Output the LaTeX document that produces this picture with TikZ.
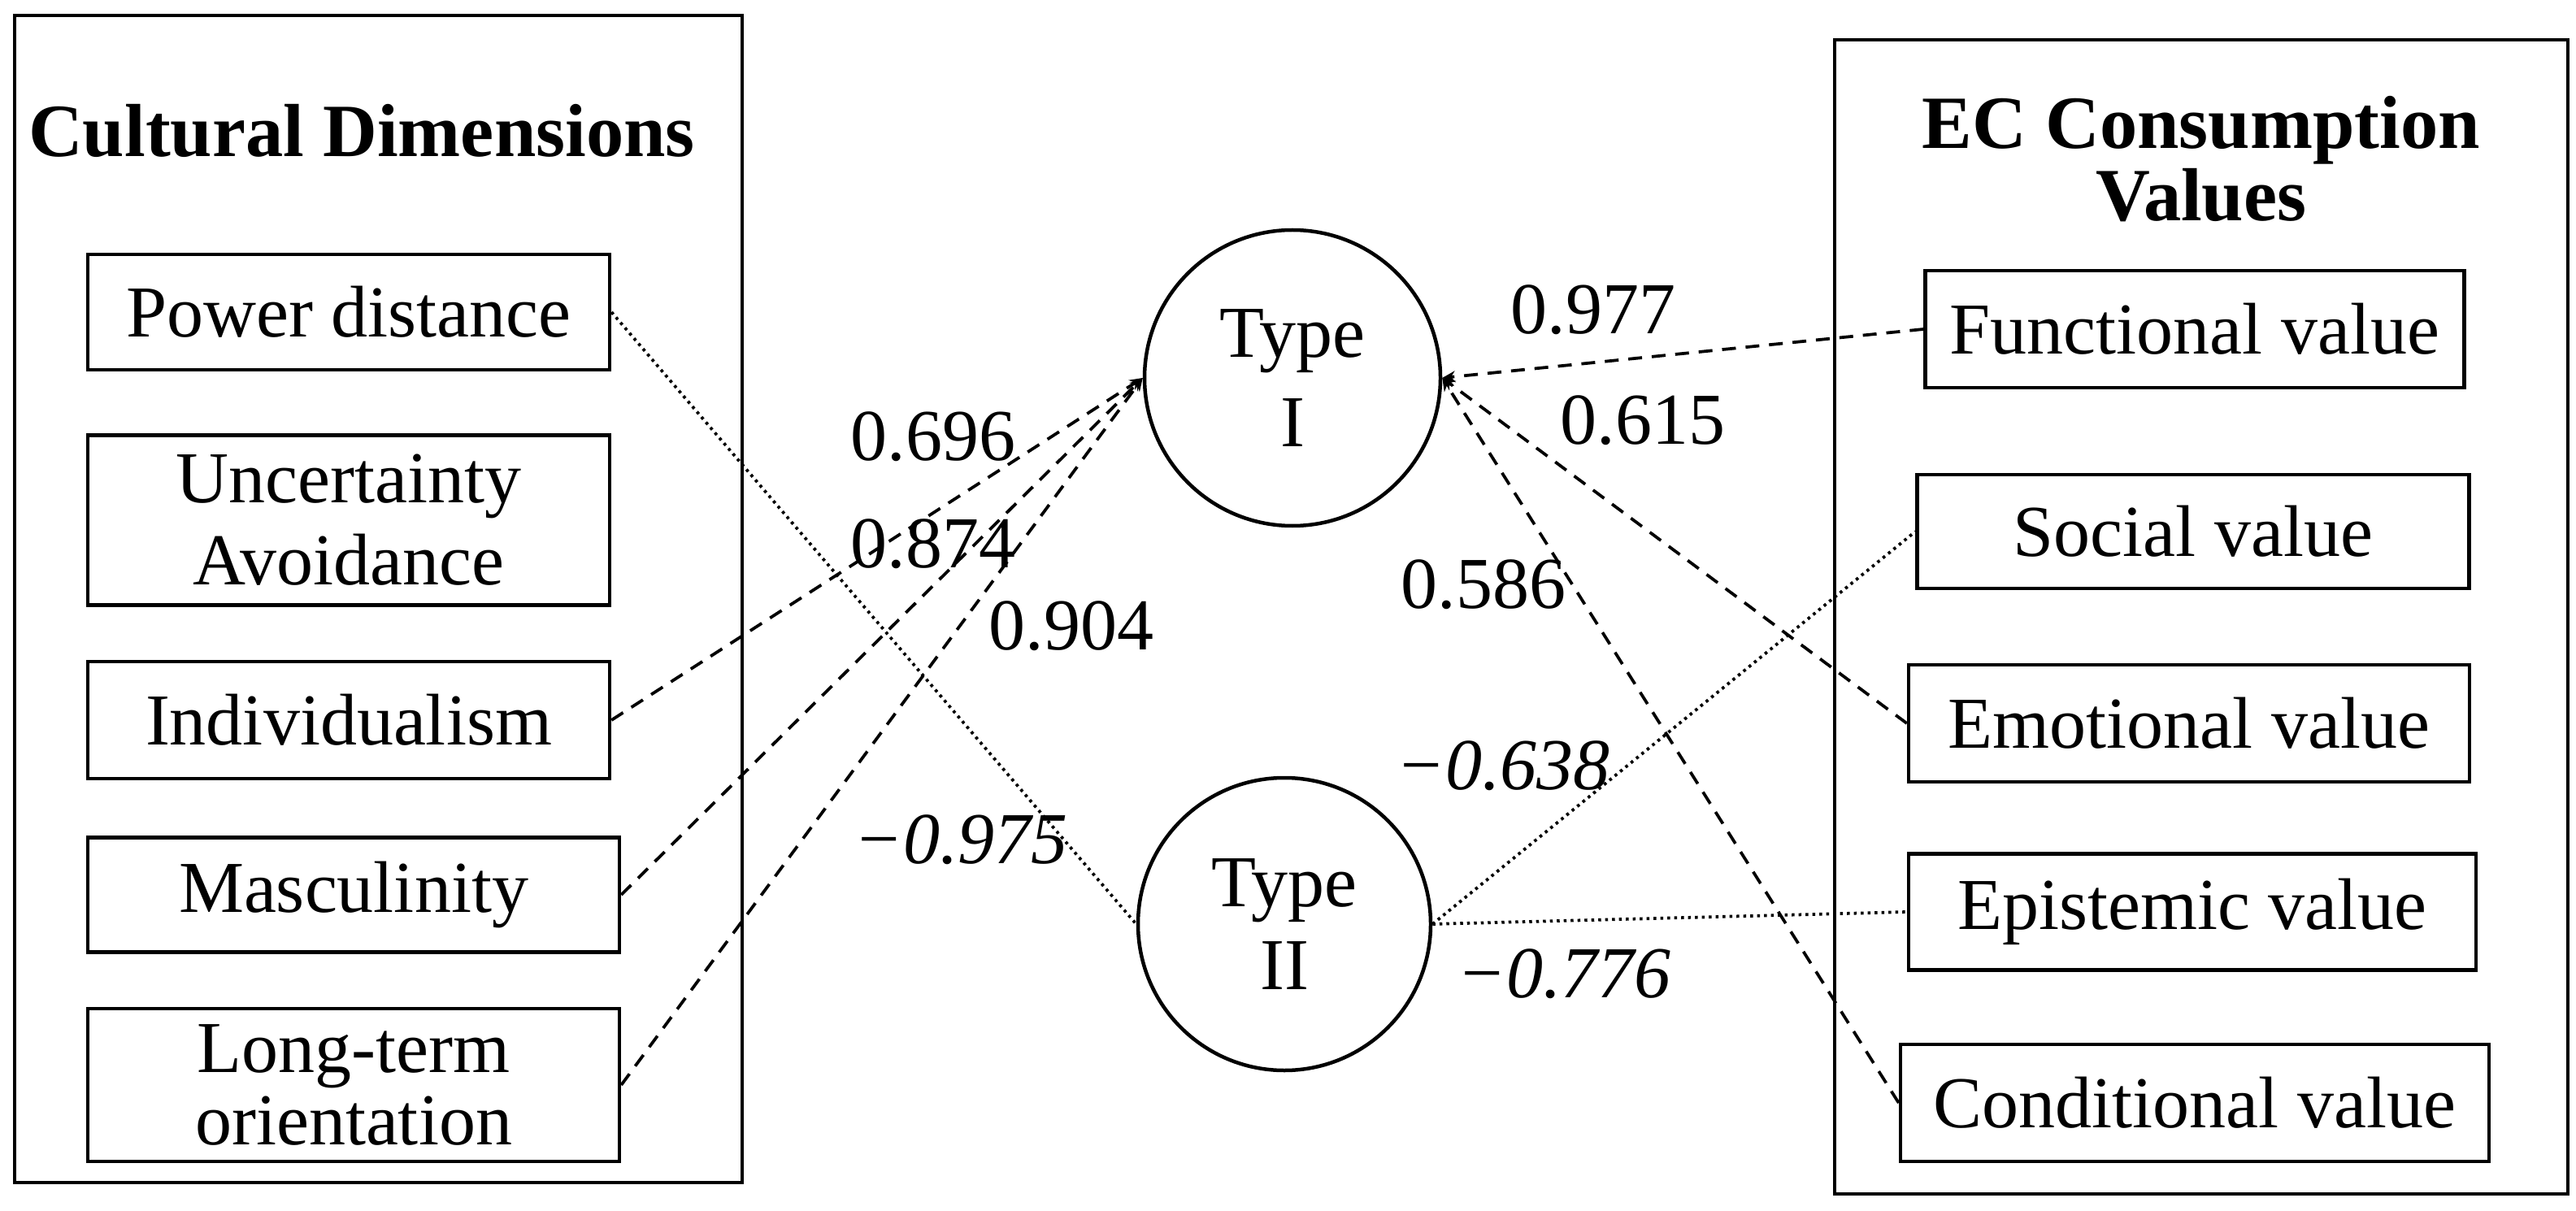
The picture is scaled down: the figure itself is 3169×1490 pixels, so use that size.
\documentclass[tikz,border=0pt]{standalone}
\usepackage{fontspec}
\setmainfont{Liberation Serif}
\usetikzlibrary{arrows.meta}
\begin{document}
\begin{tikzpicture}[x=0.2pt,y=-0.2pt,
  sz/.style 2 args={minimum width={#1*0.2pt},minimum height={#2*0.2pt}},
  frame/.style={draw,line width=0.9pt,inner sep=0pt},
  box/.style={draw,line width=0.9pt,inner sep=0pt,align=center,font=\fontsize{18pt}{20.2pt}\selectfont},
  ttl/.style={inner sep=0pt,align=center,font=\fontsize{18.5pt}{15.4pt}\selectfont\bfseries},
  lat/.style={draw,circle,line width=0.9pt,inner sep=0pt,align=center},
  num/.style={inner sep=0pt,anchor=base,font=\fontsize{18pt}{20pt}\selectfont},
  inum/.style={num,font=\fontsize{18pt}{20pt}\selectfont\itshape},
  dsh/.style={line width=0.75pt,dash pattern=on 3.4pt off 2.4pt},
  arr/.style={dsh,-{Stealth[length=3.2pt,width=2.8pt]}},
  dot/.style={line width=0.75pt,dash pattern=on 0.7pt off 1pt}]
\useasboundingbox (0,0) rectangle (3169,1490);
% frames
\node[frame,sz={895}{1436}] (L) at (465.5,737) {};
\node[frame,sz={902}{1420}] (R) at (2708,759) {};
\node[ttl,anchor=base] (Lt) at (445,193) {Cultural Dimensions};
\node[ttl] (Rt) at (2708,196) {EC Consumption\\Values};
% left boxes
\node[box,sz={642}{142}] (PD) at (429,384) {Power distance};
\node[box,sz={642}{209}] (UA) at (429,640) {Uncertainty\\Avoidance};
\node[box,sz={642}{144}] (IN) at (429,886) {Individualism};
\node[box,sz={654}{141}] (MA) at (435,1101) {Masculinity};
\node[box,sz={654}{188},font=\fontsize{18pt}{17.8pt}\selectfont] (LT) at (435,1335) {Long-term\\orientation};
% right boxes
\node[box,sz={663}{144}] (FV) at (2700,405) {Functional value};
\node[box,sz={679}{140}] (SV) at (2698,654) {Social value};
\node[box,sz={690}{144}] (EM) at (2693,890) {Emotional value};
\node[box,sz={698}{143}] (EP) at (2697,1122) {Epistemic value};
\node[box,sz={724}{144}] (CV) at (2700,1357) {Conditional value};
% latent types
\node[lat,sz={364}{364},font=\fontsize{18pt}{22pt}\selectfont] (T1) at (1590,465) {Type\\I};
\node[lat,sz={360}{360},font=\fontsize{18pt}{20.5pt}\selectfont] (T2) at (1580,1137) {Type\\II};
% connectors
\draw[arr] (IN.east) -- (T1.west);
\draw[arr] (MA.east) -- (T1.west);
\draw[arr] (LT.east) -- (T1.west);
\draw[arr] (FV.west) -- (T1.east);
\draw[arr] (EM.west) -- (T1.east);
\draw[arr] (CV.west) -- (T1.east);
\draw[dot] (PD.east) -- (T2.west);
\draw[dot] (T2.east) -- (SV.west);
\draw[dot] (T2.east) -- (EP.west);
% labels
\node[num] (n1) at (1960,411) {0.977};
\node[num] (n2) at (2021,546) {0.615};
\node[num] (n3) at (1825,748) {0.586};
\node[num] (n4) at (1148,566) {0.696};
\node[num] (n5) at (1148,698) {0.874};
\node[num] (n6) at (1318,799) {0.904};
\node[inum] (n7) at (1182,1062) {−0.975};
\node[inum] (n8) at (1849,971) {−0.638};
\node[inum] (n9) at (1924,1227) {−0.776};
\end{tikzpicture}
\end{document}
